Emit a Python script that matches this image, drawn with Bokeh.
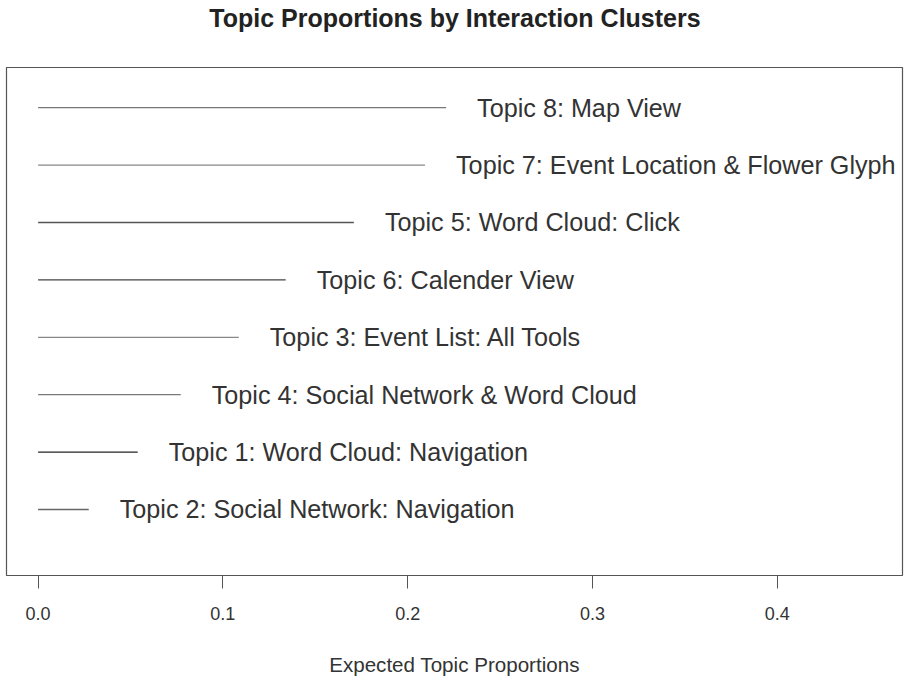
from bokeh.plotting import figure
from bokeh.models import ColumnDataSource, FixedTicker, Range1d, Div
from bokeh.layouts import column
from bokeh.core.properties import value
from bokeh.embed import file_html
from bokeh.resources import INLINE

# Data (bottom to top)
topics = [
    "Topic 2: Social Network: Navigation",
    "Topic 1: Word Cloud: Navigation",
    "Topic 4: Social Network & Word Cloud",
    "Topic 3: Event List: All Tools",
    "Topic 6: Calender View",
    "Topic 5: Word Cloud: Click",
    "Topic 7: Event Location & Flower Glyph",
    "Topic 8: Map View",
]
proportions = [0.0274, 0.0539, 0.0772, 0.1086, 0.1340, 0.1709, 0.2094, 0.2208]
line_colors = ["#666666", "#222222", "#7a7a7a", "#888888", "#444444", "#555555", "#888888", "#777777"]
tick_values = [0.0, 0.1, 0.2, 0.3, 0.4]
tick_labels = {0.0: "0.0", 0.1: "0.1", 0.2: "0.2", 0.3: "0.3", 0.4: "0.4"}
title_text = "Topic Proportions by Interaction Clusters"

rank = list(range(1, len(topics) + 1))
src = ColumnDataSource(dict(
    x0=[0.0] * len(topics), x1=proportions, y=rank, label=topics, color=line_colors,
))

title_div = Div(
    text=title_text, width=904, height=60, margin=(0, 0, 0, 0),
    styles={
        "font-family": "Liberation Sans", "font-size": "25px", "font-weight": "bold",
        "color": "#222222", "text-align": "center", "line-height": "30px",
        "padding-top": "3px", "padding-left": "6px", "width": "904px",
        "box-sizing": "border-box",
    },
)

p = figure(
    width=904, height=621, output_backend="svg", toolbar_location=None,
    x_range=Range1d(-0.0171, 0.4678), y_range=Range1d(-0.15, 8.70),
    y_axis_location=None, margin=(0, 0, 0, 0),
    min_border_left=6, min_border_right=2, min_border_top=7, min_border_bottom=106,
)

p.grid.visible = False
p.outline_line_color = "#555555"
p.outline_line_width = 1.2
p.background_fill_color = "white"
p.border_fill_color = "white"

p.segment(x0="x0", y0="y", x1="x1", y1="y", source=src, line_color="color", line_width=1.3)
p.text(x="x1", y="y", text="label", source=src, x_offset=31,
       text_baseline="middle", text_align="left",
       text_font=value("Liberation Sans"), text_font_size="25.2px", text_color="#333333")

ax = p.xaxis[0]
ax.ticker = FixedTicker(ticks=tick_values)
ax.major_label_overrides = tick_labels
ax.bounds = (0.0, 0.4)
ax.axis_line_color = "#555555"
ax.major_tick_line_color = "#555555"
ax.major_tick_out = 13
ax.major_tick_in = 0
ax.minor_tick_line_color = None
ax.major_label_standoff = 18
ax.major_label_text_font = "Liberation Sans"
ax.major_label_text_font_size = "18px"
ax.major_label_text_color = "#333333"
ax.axis_label = "Expected Topic Proportions"
ax.axis_label_text_font = "Liberation Sans"
ax.axis_label_text_font_size = "20.6px"
ax.axis_label_text_font_style = "normal"
ax.axis_label_text_color = "#333333"
ax.axis_label_standoff = 30

layout = column(title_div, p, spacing=0, margin=(0, 0, 0, 0))
open("out.html", "w").write(file_html(layout, INLINE))
